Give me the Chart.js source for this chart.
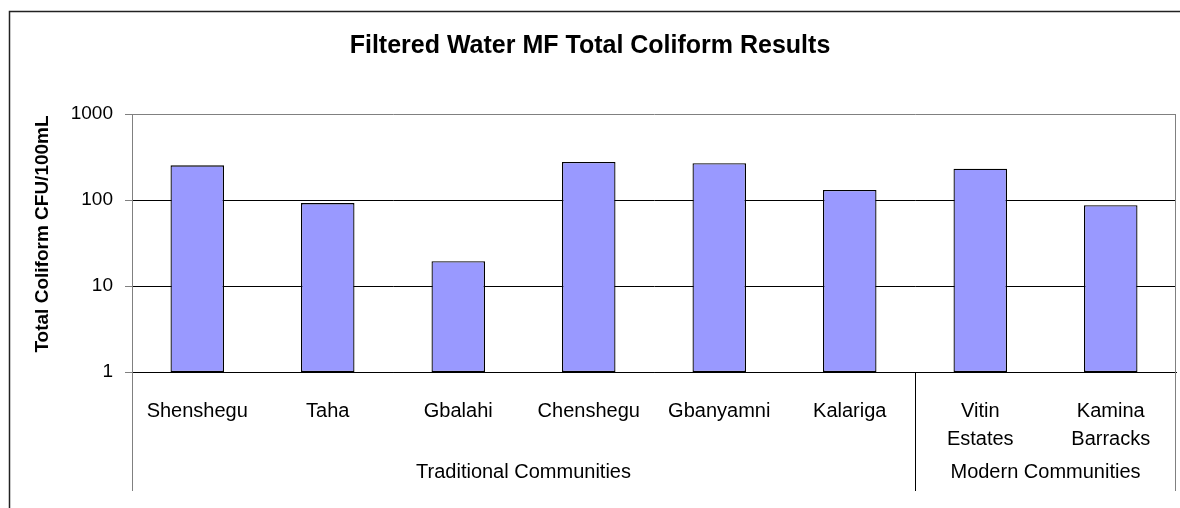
<!DOCTYPE html>
<html>
<head>
<meta charset="utf-8">
<script src="https://cdn.jsdelivr.net/npm/chart.js@4"></script>
<style>
  body { margin: 0; background: #fff; }
  canvas { display: block; }
</style>
</head>
<body>
<canvas id="coliformChart" width="1180" height="508"></canvas>
<script>
// chart data
const communities = ['Shenshegu', 'Taha', 'Gbalahi', 'Chenshegu', 'Gbanyamni', 'Kalariga', ['Vitin', 'Estates'], ['Kamina', 'Barracks']];
const coliformCounts = [253, 92, 19.4, 277, 267, 131, 231, 87];
const groupNames = ['Traditional Communities', 'Modern Communities'];
const groupSizes = [6, 2];
const yTicks = [1, 10, 100, 1000];

const FONT = "'Liberation Sans', Arial, sans-serif";

// frame, titles, group labels and extra axis lines
const excelDecor = {
  id: 'excelDecor',
  afterDraw(chart) {
    const c = chart.ctx;
    const area = chart.chartArea;
    const x = chart.scales.x;
    const bottom = x.bottom;
    const half = (x.getPixelForValue(1) - x.getPixelForValue(0)) / 2;

    c.save();
    // outer frame
    c.strokeStyle = '#222';
    c.lineWidth = 1.5;
    c.beginPath();
    c.moveTo(9.5, 520);
    c.lineTo(9.5, 11.5);
    c.lineTo(1200, 11.5);
    c.stroke();

    // title
    c.fillStyle = '#000';
    c.font = 'bold 25px ' + FONT;
    c.textAlign = 'center';
    c.textBaseline = 'middle';
    c.fillText('Filtered Water MF Total Coliform Results', 590, 46);

    // y axis title
    c.save();
    c.translate(43, 234);
    c.rotate(-Math.PI / 2);
    c.font = 'bold 19px ' + FONT;
    c.fillText('Total Coliform CFU/100mL', 0, 0);
    c.restore();

    // right border of plot and below
    c.lineWidth = 1;
    c.strokeStyle = '#808080';
    c.beginPath();
    c.moveTo(Math.round(area.right) - 0.5, area.top);
    c.lineTo(Math.round(area.right) - 0.5, bottom);
    c.moveTo(Math.round(area.left) + 0.5, area.bottom);
    c.lineTo(Math.round(area.left) + 0.5, bottom);
    c.stroke();

    // group separators and labels
    c.font = '20px ' + FONT;
    let start = 0;
    groupNames.forEach((name, gi) => {
      const end = start + groupSizes[gi] - 1;
      const x0 = x.getPixelForValue(start) - half;
      const x1 = x.getPixelForValue(end) + half;
      if (gi > 0) {
        c.strokeStyle = '#000';
        c.beginPath();
        c.moveTo(Math.round(x0) + 0.5, area.bottom);
        c.lineTo(Math.round(x0) + 0.5, bottom);
        c.stroke();
      }
      c.fillText(name, (x0 + x1) / 2, 472);
      start = end + 1;
    });
    c.restore();
  }
};

new Chart(document.getElementById('coliformChart'), {
  type: 'bar',
  data: {
    labels: communities,
    datasets: [{
      label: 'Total Coliform',
      data: coliformCounts,
      backgroundColor: '#9999FF',
      borderColor: '#000',
      borderWidth: 1.3,
      borderSkipped: false,
      barPercentage: 0.41,
      categoryPercentage: 1
    }]
  },
  options: {
    responsive: false,
    animation: false,
    layout: { padding: { top: 114, left: 0, right: 4, bottom: 17 } },
    plugins: {
      legend: { display: false },
      tooltip: { enabled: false }
    },
    scales: {
      x: {
        grid: { display: false },
        border: { color: '#000' },
        ticks: {
          color: '#000',
          font: { family: FONT, size: 20, lineHeight: 1.425 },
          padding: 17,
          autoSkip: false,
          maxRotation: 0
        },
        afterFit(scale) { scale.height = 119; }
      },
      y: {
        type: 'logarithmic',
        min: 1,
        max: 1000,
        afterBuildTicks(scale) { scale.ticks = yTicks.map(v => ({ value: v })); },
        afterFit(scale) { scale.width = 132; },
        border: { color: '#808080' },
        grid: {
          color: ctx => (ctx.tick && ctx.tick.value === 1000 ? '#808080' : '#000'),
          tickColor: '#808080',
          tickLength: 7
        },
        ticks: {
          color: '#000',
          font: { family: FONT, size: 19 },
          padding: 12,
          callback: v => String(v)
        }
      }
    }
  },
  plugins: [excelDecor]
});
</script>
</body>
</html>
